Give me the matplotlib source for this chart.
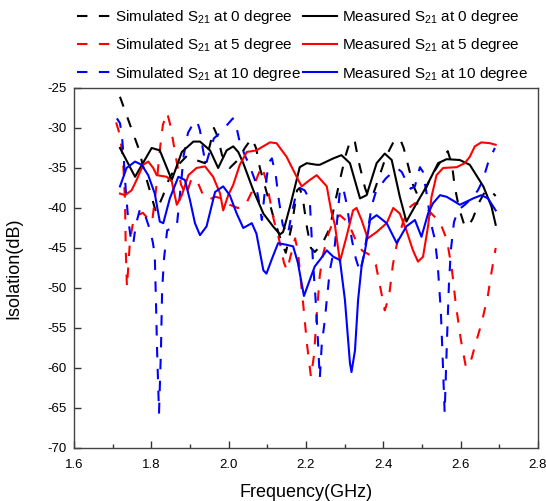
import numpy as np
import matplotlib
matplotlib.use('Agg')
import matplotlib.pyplot as plt
from matplotlib.ticker import MultipleLocator

plt.rcParams['font.family'] = ['Liberation Sans', 'DejaVu Sans']
plt.rcParams['mathtext.default'] = 'regular'
plt.rcParams['axes.unicode_minus'] = False

# simulated / measured S21 (GHz, dB)
sim0_f = [1.719, 1.745, 1.766, 1.786, 1.812, 1.830, 1.848, 1.874, 1.892, 1.915, 1.939, 1.952,
          1.962, 1.972, 1.983, 2.003, 2.024, 2.042, 2.060, 2.071, 2.081, 2.097, 2.117, 2.138,
          2.148, 2.164, 2.177, 2.184, 2.192, 2.203, 2.213, 2.223, 2.241, 2.262, 2.275, 2.288,
          2.303, 2.316, 2.327, 2.337, 2.353, 2.363, 2.376, 2.391, 2.407, 2.425, 2.443, 2.453,
          2.464, 2.477, 2.490, 2.508, 2.526, 2.547, 2.567, 2.578, 2.585, 2.596, 2.609, 2.619,
          2.632, 2.647, 2.665, 2.681, 2.691]
sim0_db = [-26.1, -29.6, -32.4, -36.1, -40.5, -38.5, -36.1, -34.4, -33.5, -34.0, -34.4, -32.1,
           -30.0, -31.1, -33.4, -35.0, -34.0, -32.5, -31.3, -32.5, -35.0, -37.8, -41.3, -44.4,
           -45.6, -42.1, -37.8, -37.5, -38.8, -42.5, -45.0, -45.5, -44.6, -42.5, -39.4, -36.5,
           -33.4, -31.4, -31.8, -34.3, -37.5, -38.8, -38.0, -35.9, -33.6, -31.9, -31.3, -32.5,
           -34.6, -37.1, -38.5, -37.8, -35.9, -34.3, -32.9, -34.6, -37.3, -40.0, -42.0, -42.4,
           -41.3, -39.4, -37.8, -38.0, -38.5]

sim5_f = [1.709, 1.719, 1.727, 1.732, 1.734, 1.737, 1.745, 1.753, 1.766, 1.778, 1.791, 1.802,
          1.812, 1.822, 1.830, 1.841, 1.848, 1.856, 1.866, 1.877, 1.890, 1.903, 1.916, 1.934,
          1.947, 1.965, 1.983, 2.003, 2.024, 2.042, 2.060, 2.076, 2.086, 2.097, 2.107, 2.117,
          2.130, 2.143, 2.151, 2.161, 2.172, 2.179, 2.192, 2.203, 2.213, 2.221, 2.228, 2.236,
          2.244, 2.257, 2.272, 2.288, 2.309, 2.327, 2.345, 2.366, 2.381, 2.394, 2.404, 2.415,
          2.425, 2.435, 2.451, 2.469, 2.482, 2.500, 2.521, 2.547, 2.565, 2.578, 2.588, 2.601,
          2.614, 2.624, 2.640, 2.655, 2.671, 2.681, 2.691]
sim5_db = [-29.3, -30.9, -34.0, -39.0, -45.3, -49.9, -44.0, -41.8, -40.9, -40.6, -41.3, -41.8,
           -37.8, -32.8, -29.6, -28.1, -29.4, -31.5, -34.3, -37.1, -38.4, -36.5, -36.3, -38.4,
           -39.0, -38.6, -38.8, -39.6, -40.0, -39.8, -38.0, -35.9, -34.8, -36.5, -39.0, -41.5,
           -43.8, -46.8, -47.8, -45.9, -43.8, -45.3, -51.5, -57.1, -61.1, -58.4, -53.4, -48.4,
           -45.9, -43.4, -41.5, -40.9, -41.8, -43.8, -45.3, -45.9, -47.1, -50.3, -52.8, -51.1,
           -47.1, -44.6, -41.8, -39.9, -39.4, -39.6, -40.5, -41.8, -44.0, -47.8, -52.1, -56.5,
           -59.9, -59.6, -56.8, -54.3, -50.9, -47.8, -45.0]

sim10_f = [1.711, 1.719, 1.724, 1.729, 1.734, 1.740, 1.747, 1.753, 1.760, 1.771, 1.784, 1.797,
           1.804, 1.809, 1.812, 1.815, 1.820, 1.825, 1.828, 1.833, 1.841, 1.853, 1.866, 1.874,
           1.884, 1.895, 1.908, 1.918, 1.926, 1.934, 1.941, 1.952, 1.962, 1.978, 1.993, 2.011,
           2.019, 2.029, 2.042, 2.055, 2.068, 2.078, 2.086, 2.094, 2.104, 2.112, 2.122, 2.130,
           2.140, 2.153, 2.164, 2.174, 2.184, 2.197, 2.210, 2.218, 2.226, 2.231, 2.236, 2.241,
           2.249, 2.254, 2.262, 2.275, 2.288, 2.296, 2.306, 2.319, 2.329, 2.340, 2.350, 2.360,
           2.371, 2.381, 2.394, 2.407, 2.425, 2.438, 2.448, 2.461, 2.471, 2.482, 2.495, 2.503,
           2.513, 2.523, 2.534, 2.541, 2.549, 2.554, 2.559, 2.565, 2.570, 2.575, 2.583, 2.593,
           2.611, 2.629, 2.645, 2.658, 2.671, 2.681, 2.689]
sim10_db = [-28.8, -29.4, -30.9, -34.0, -37.8, -41.3, -43.8, -44.6, -42.1, -40.1, -40.9, -42.8,
            -44.3, -45.9, -51.5, -57.8, -65.6, -57.8, -50.3, -46.3, -42.8, -42.5, -42.3, -38.4,
            -33.4, -30.6, -29.5, -29.1, -30.3, -32.8, -34.6, -32.8, -31.3, -30.6, -29.8, -28.8,
            -29.6, -31.8, -33.4, -34.8, -36.5, -39.0, -41.5, -37.8, -34.3, -33.8, -35.9, -39.0,
            -42.1, -43.4, -40.5, -38.4, -37.5, -37.8, -39.0, -46.5, -52.1, -56.5, -61.3, -57.1,
            -54.0, -51.5, -47.8, -44.6, -37.8, -37.4, -39.6, -44.0, -46.3, -48.0, -45.9, -42.8,
            -39.6, -38.0, -37.1, -36.3, -35.5, -35.1, -35.5, -36.8, -37.6, -37.3, -34.9, -35.5,
            -38.4, -41.8, -44.0, -47.1, -52.8, -59.0, -65.6, -56.5, -49.6, -45.3, -41.8, -40.3,
            -39.6, -38.8, -37.8, -36.5, -34.4, -33.3, -32.5]

meas0_f = [1.719, 1.758, 1.801, 1.822, 1.853, 1.879, 1.909, 1.926, 1.952, 1.973, 1.995, 2.012,
           2.025, 2.038, 2.064, 2.090, 2.115, 2.133, 2.141, 2.159, 2.176, 2.184, 2.202, 2.228,
           2.236, 2.271, 2.292, 2.314, 2.340, 2.357, 2.383, 2.404, 2.422, 2.443, 2.460, 2.482,
           2.512, 2.542, 2.564, 2.598, 2.624, 2.659, 2.680, 2.691]
meas0_db = [-32.5, -36.1, -32.5, -32.8, -36.5, -33.0, -31.7, -31.7, -32.8, -35.0, -32.8, -32.3,
            -33.0, -34.4, -37.8, -40.7, -42.3, -43.3, -43.0, -39.8, -36.5, -34.9, -34.4, -34.6,
            -34.6, -33.8, -33.4, -34.4, -38.8, -38.4, -34.4, -33.2, -34.0, -38.6, -41.7, -39.8,
            -37.3, -34.4, -33.9, -34.0, -34.6, -37.3, -39.8, -42.1]

meas5_f = [1.719, 1.732, 1.749, 1.762, 1.779, 1.792, 1.805, 1.814, 1.840, 1.853, 1.866, 1.879,
           1.896, 1.917, 1.939, 1.960, 1.978, 1.986, 1.999, 2.012, 2.029, 2.047, 2.072, 2.107,
           2.124, 2.150, 2.176, 2.189, 2.210, 2.228, 2.254, 2.266, 2.275, 2.288, 2.305, 2.322,
           2.331, 2.344, 2.360, 2.383, 2.409, 2.426, 2.443, 2.460, 2.477, 2.490, 2.503, 2.516,
           2.525, 2.538, 2.555, 2.590, 2.611, 2.624, 2.637, 2.654, 2.676, 2.691]
meas5_db = [-38.2, -38.4, -37.8, -36.5, -34.6, -34.2, -35.0, -35.9, -36.1, -36.7, -39.6, -38.4,
            -35.9, -35.0, -34.8, -36.1, -38.2, -40.3, -38.4, -37.1, -34.6, -33.0, -32.8, -31.8,
            -31.9, -33.6, -36.1, -37.3, -36.5, -35.9, -37.3, -40.5, -42.1, -46.7, -43.6, -40.3,
            -40.0, -41.5, -43.8, -43.0, -41.9, -40.0, -40.7, -42.8, -45.3, -46.7, -46.1, -42.3,
            -38.6, -35.9, -35.0, -34.9, -34.4, -33.6, -32.3, -31.8, -31.9, -32.1]

meas10_f = [1.719, 1.728, 1.736, 1.758, 1.775, 1.792, 1.809, 1.822, 1.831, 1.848, 1.870, 1.887,
            1.900, 1.913, 1.926, 1.943, 1.965, 1.986, 2.003, 2.021, 2.038, 2.060, 2.072, 2.090,
            2.098, 2.111, 2.128, 2.150, 2.167, 2.179, 2.195, 2.210, 2.223, 2.236, 2.254, 2.271,
            2.288, 2.301, 2.314, 2.318, 2.327, 2.335, 2.344, 2.353, 2.366, 2.383, 2.409, 2.435,
            2.460, 2.482, 2.499, 2.516, 2.529, 2.547, 2.564, 2.585, 2.598, 2.616, 2.633, 2.654,
            2.671, 2.691]
meas10_db = [-37.3, -36.1, -35.0, -34.2, -34.6, -35.9, -38.2, -41.7, -41.9, -38.8, -36.1, -36.5,
             -39.0, -41.9, -43.4, -42.3, -38.0, -37.3, -38.4, -40.7, -42.5, -41.9, -43.2, -47.8,
             -48.2, -46.5, -44.4, -44.6, -44.8, -46.8, -51.0, -49.0, -47.3, -46.5, -45.3, -46.1,
             -46.5, -51.5, -59.4, -60.5, -57.8, -51.5, -47.3, -45.3, -41.5, -40.9, -41.9, -44.4,
             -42.3, -41.5, -43.6, -40.7, -39.4, -38.4, -38.6, -39.2, -39.6, -39.2, -38.8, -38.4,
             -38.8, -40.3]

fig = plt.figure(figsize=(5.46, 5.01), dpi=100)
ax = fig.add_axes([0.1355, 0.1058, 0.8495, 0.7186])

dash = (0, (5, 5.5))
lw = 1.5
s0, = ax.plot(sim0_f, sim0_db, color='black', lw=lw, linestyle=dash)
s5, = ax.plot(sim5_f, sim5_db, color='red', lw=lw, linestyle=dash)
s10, = ax.plot(sim10_f, sim10_db, color='blue', lw=lw, linestyle=dash)
m0, = ax.plot(meas0_f, meas0_db, color='black', lw=lw)
m5, = ax.plot(meas5_f, meas5_db, color='red', lw=lw)
m10, = ax.plot(meas10_f, meas10_db, color='blue', lw=lw)

ax.set_xlim(1.6, 2.8)
ax.set_ylim(-70, -25)
ax.xaxis.set_major_locator(MultipleLocator(0.2))
ax.xaxis.set_minor_locator(MultipleLocator(0.1))
ax.yaxis.set_major_locator(MultipleLocator(5))
ax.xaxis.set_major_formatter(matplotlib.ticker.FormatStrFormatter('%.1f'))
ax.tick_params(which='both', direction='in', labelsize=9.5, width=1, color='#333333')
ax.tick_params(which='major', length=5)
ax.tick_params(which='minor', length=3)
ax.tick_params(axis='x', pad=8)
ax.tick_params(axis='y', pad=5)
for sp in ax.spines.values():
    sp.set_color('#444444')
    sp.set_linewidth(1)

ax.set_xlabel('Frequency(GHz)', fontsize=13, labelpad=9)
ax.set_ylabel('Isolation(dB)', fontsize=13, labelpad=18)

handles = [s0, s5, s10, m0, m5, m10]
labels = ['Simulated S$_{21}$ at 0 degree', 'Simulated S$_{21}$ at 5 degree',
          'Simulated S$_{21}$ at 10 degree', 'Measured S$_{21}$ at 0 degree',
          'Measured S$_{21}$ at 5 degree', 'Measured S$_{21}$ at 10 degree']
fig.legend(handles, labels, ncol=2, loc='upper left', bbox_to_anchor=(0.141, 0.984),
           frameon=False, fontsize=11, handlelength=2.2, handletextpad=0.3,
           columnspacing=0.15, labelspacing=0.68, borderpad=0.0, borderaxespad=0.0)

fig.savefig('out.png', dpi=100)
